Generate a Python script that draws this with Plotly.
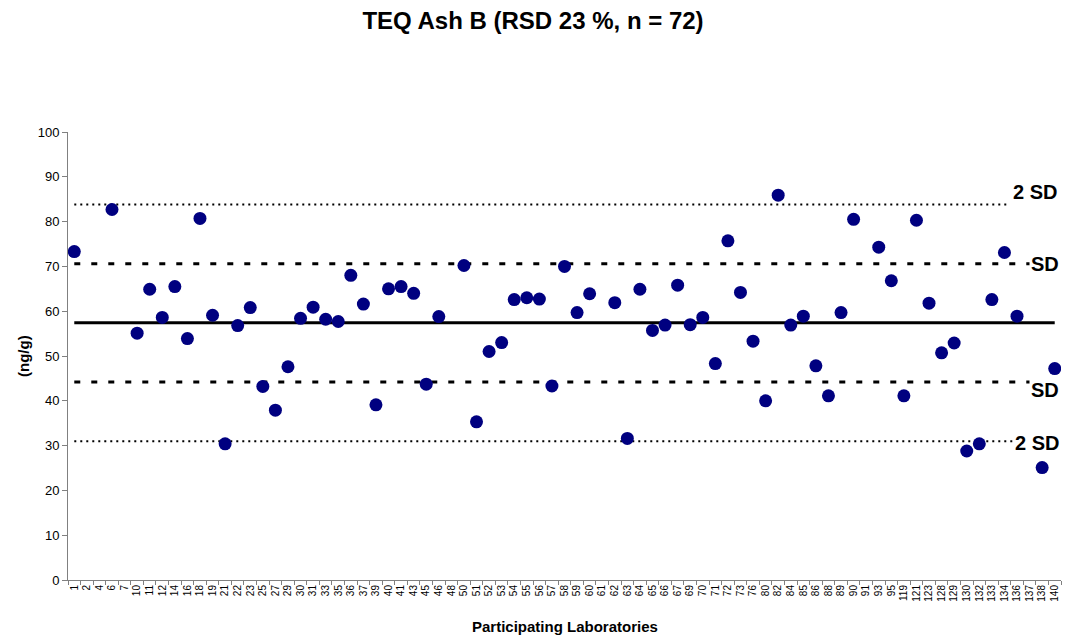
import plotly.graph_objects as go

# Laboratory codes along the x axis (categorical)
labs = [1, 2, 4, 6, 7, 10, 11, 12, 14, 16, 18, 19, 21, 22, 23, 25, 27, 29, 30, 31,
        33, 35, 36, 37, 39, 40, 41, 43, 45, 46, 48, 50, 51, 52, 53, 54, 55, 56, 57, 58,
        59, 60, 61, 62, 63, 64, 65, 66, 67, 69, 70, 71, 72, 73, 76, 80, 82, 84, 85, 86,
        88, 89, 90, 91, 93, 95, 119, 121, 123, 128, 129, 130, 132, 133, 134, 136, 137, 138, 140]

# Reported TEQ values (ng/g); None = no result submitted
teq = [73.3, None, None, 82.7, None, 55.1, 64.9, 58.6, 65.5, 53.9, 80.7, 59.1, 30.4, 56.8, 60.8, 43.2, 37.9, 47.6, 58.4, 60.9,
       58.2, 57.7, 68.0, 61.6, 39.1, 65.0, 65.5, 64.0, 43.7, 58.8, None, 70.2, 35.3, 51.0, 53.0, 62.6, 63.0, 62.7, 43.3, 70.0,
       59.7, 63.9, None, 61.9, 31.6, 64.9, 55.7, 56.9, 65.8, 57.0, 58.6, 48.3, 75.7, 64.2, 53.3, 40.0, 85.9, 56.9, 58.9, 47.8,
       41.1, 59.7, 80.5, None, 74.3, 66.8, 41.1, 80.3, 61.8, 50.7, 52.9, 28.8, 30.4, 62.6, 73.1, 58.9, None, 25.1, 47.2]

consensus_mean = 57.4
rsd = 0.23
sd = consensus_mean * rsd

x_cat = [str(v) for v in labs]
FONT = "Liberation Sans, Arial"

fig = go.Figure()

dot_style = "2px,4px"
dash_style = "6px,11px"

# Consensus mean with ±1 SD and ±2 SD bands
ref_lines = [
    (consensus_mean + 2 * sd, dot_style, 2),
    (consensus_mean + sd, dash_style, 3),
    (consensus_mean, "solid", 3),
    (consensus_mean - sd, dash_style, 3),
    (consensus_mean - 2 * sd, dot_style, 2),
]
for level, dash, width in ref_lines:
    fig.add_trace(go.Scatter(
        x=x_cat, y=[level] * len(x_cat), mode="lines",
        line=dict(color="black", width=width, dash=dash),
        hoverinfo="skip", showlegend=False,
    ))

fig.add_trace(go.Scatter(
    x=x_cat, y=teq, mode="markers",
    marker=dict(color="#000080", size=13),
    showlegend=False,
))

label_font = dict(family=FONT, size=20, color="black")
band_labels = [
    ("2 SD", consensus_mean + 2 * sd, 13, 3),
    ("SD", consensus_mean + sd, 0, 1),
    ("SD", consensus_mean - sd, -8, 1),
    ("2 SD", consensus_mean - 2 * sd, -2, 1),
]
for text, level, shift, pad in band_labels:
    fig.add_annotation(
        text=f"<b>{text}</b>", xref="paper", x=1.0, xanchor="right",
        yref="y", y=level, yanchor="middle", yshift=shift,
        showarrow=False, font=label_font, bgcolor="white", borderpad=pad,
    )

# Axis titles
fig.add_annotation(
    text="<b>Participating Laboratories</b>", xref="paper", x=0.5, xanchor="center",
    yref="paper", y=0, yanchor="middle", yshift=-46, showarrow=False,
    font=dict(family=FONT, size=15, color="black"),
)
fig.add_annotation(
    text="<b>(ng/g)</b>", xref="paper", x=0, xanchor="center", xshift=-45,
    yref="paper", y=0.5, yanchor="middle", textangle=-90, showarrow=False,
    font=dict(family=FONT, size=15, color="black"),
)

fig.update_layout(
    width=1066, height=636,
    margin=dict(l=68, r=5, t=132, b=56),
    paper_bgcolor="white", plot_bgcolor="white",
    font=dict(family=FONT, color="black"),
    title=dict(
        text="<b>TEQ Ash B (RSD 23 %, n = 72)</b>",
        x=0.5, xanchor="center", xref="container",
        y=1 - 21 / 636, yanchor="middle",
        font=dict(family=FONT, size=24, color="black"),
    ),
    xaxis=dict(
        type="category", categoryorder="array", categoryarray=x_cat,
        range=[-0.5, len(x_cat) - 0.5],
        showgrid=False, zeroline=False,
        showline=True, linecolor="#808080", linewidth=1,
        ticks="outside", tickson="boundaries", ticklen=4, tickcolor="#808080",
        tickangle=-90, tickfont=dict(size=10), tickmode="array",
        tickvals=x_cat, ticktext=x_cat,
    ),
    yaxis=dict(
        range=[0, 100], dtick=10, tick0=0,
        showgrid=False, zeroline=False,
        showline=True, linecolor="#808080", linewidth=1,
        ticks="outside", ticklen=5, tickcolor="#808080",
        tickfont=dict(size=13),
    ),
)

fig.write_html("out.html")
